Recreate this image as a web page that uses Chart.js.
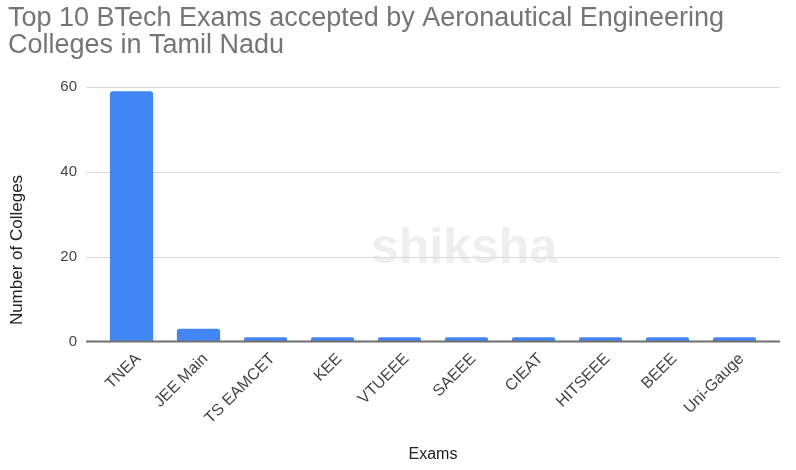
<!DOCTYPE html>
<html>
<head>
<meta charset="utf-8">
<script src="https://cdn.jsdelivr.net/npm/chart.js@4.4.1/dist/chart.umd.min.js"></script>
<style>
  html, body { margin: 0; padding: 0; background: #ffffff; }
  #wrap { width: 796px; height: 470px; position: relative; }
</style>
</head>
<body>
<div id="wrap"><canvas id="c" width="796" height="470"></canvas></div>
<script>
const titleLines = ["Top 10 BTech Exams accepted by Aeronautical Engineering", "Colleges in Tamil Nadu"];
const categories = ["TNEA", "JEE Main", "TS EAMCET", "KEE", "VTUEEE", "SAEEE", "CIEAT", "HITSEEE", "BEEE", "Uni-Gauge"];
const collegeCounts = [59, 3, 1, 1, 1, 1, 1, 1, 1, 1];
const yTicks = [0, 20, 40, 60];
const xAxisTitle = "Exams";
const yAxisTitle = "Number of Colleges";
const watermark = "shiksha";

const FONT = "'Liberation Sans', Arial, sans-serif";

const gridPlugin = {
  id: 'gridAndExtras',
  beforeDatasetsDraw(chart) {
    const ctx = chart.ctx;
    const y = chart.scales.y;
    const left = 86, right = 780;
    ctx.save();
    ctx.fillStyle = '#eeeeee';
    ctx.font = "bold 50px " + FONT;
    ctx.textBaseline = 'alphabetic';
    ctx.textAlign = 'left';
    ctx.fillText(watermark, 371, 263);
    yTicks.forEach(v => {
      if (v === 0) return;
      const py = Math.round(y.getPixelForValue(v));
      ctx.strokeStyle = '#d9d9d9';
      ctx.lineWidth = 1;
      ctx.beginPath();
      ctx.moveTo(left, py + 0.5);
      ctx.lineTo(right, py + 0.5);
      ctx.stroke();
    });
    ctx.restore();
  },
  afterDatasetsDraw(chart) {
    const ctx = chart.ctx;
    const y = chart.scales.y;
    const py = y.getPixelForValue(0);
    ctx.save();
    ctx.strokeStyle = '#6f6f6f';
    ctx.lineWidth = 2;
    ctx.beginPath();
    ctx.moveTo(86, py);
    ctx.lineTo(780, py);
    ctx.stroke();
    ctx.translate(17, 250);
    ctx.rotate(-Math.PI / 2);
    ctx.fillStyle = '#222222';
    ctx.font = "17px " + FONT;
    ctx.textAlign = 'center';
    ctx.textBaseline = 'middle';
    ctx.fillText(yAxisTitle, 0, 0);
    ctx.restore();
  }
};

new Chart(document.getElementById('c'), {
  type: 'bar',
  data: {
    labels: categories,
    datasets: [{
      data: collegeCounts,
      backgroundColor: '#4285f4',
      borderRadius: { topLeft: 3, topRight: 3 },
      borderSkipped: 'bottom',
      categoryPercentage: 0.645,
      barPercentage: 1.0
    }]
  },
  options: {
    responsive: false,
    animation: false,
    devicePixelRatio: 1,
    layout: { padding: { left: 8, right: 28, top: 0, bottom: 0 } },
    plugins: {
      legend: { display: false },
      tooltip: { enabled: false },
      title: {
        display: true,
        text: titleLines,
        align: 'start',
        color: '#757575',
        font: { family: FONT, size: 27, weight: 'normal', lineHeight: 1.0 },
        padding: { top: 5, bottom: 28 }
      }
    },
    scales: {
      x: {
        grid: { display: false, drawTicks: false },
        border: { display: false },
        ticks: {
          color: '#444444',
          font: { family: FONT, size: 16 },
          minRotation: 45,
          maxRotation: 45,
          padding: 8,
          labelOffset: 7,
          autoSkip: false
        },
        title: {
          display: true,
          text: xAxisTitle,
          color: '#222222',
          font: { family: FONT, size: 16 },
          padding: { top: 6, bottom: 6 }
        },
        afterFit(axis) { axis.height = 128.5; }
      },
      y: {
        min: 0,
        max: 60,
        afterBuildTicks(axis) { axis.ticks = yTicks.map(v => ({ value: v })); },
        grid: { display: false, drawTicks: false },
        border: { display: false },
        ticks: {
          color: '#444444',
          font: { family: FONT, size: 15 },
          padding: 21
        },
        afterFit(axis) { axis.width = 90; }
      }
    }
  },
  plugins: [gridPlugin]
});
</script>
</body>
</html>
